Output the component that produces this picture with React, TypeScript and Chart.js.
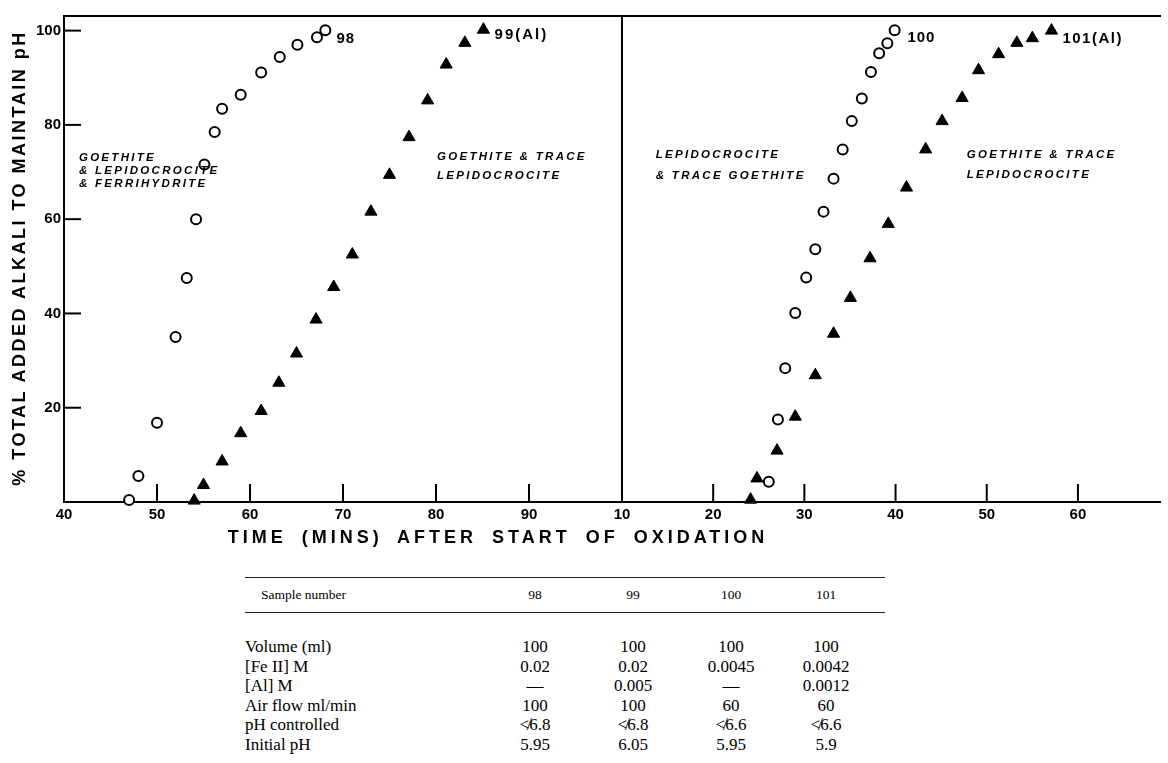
import React, { useEffect, useRef } from 'react';
import { Chart, registerables } from 'chart.js';
Chart.register(...registerables);

// ---------- data (time in minutes, % total added alkali) ----------
const t98 = [47, 48, 50, 52, 53.2, 54.2, 55.1, 56.2, 57, 59, 61.2, 63.2, 65.1, 67.2, 68.1];
const v98 = [0.4, 5.5, 16.8, 35, 47.5, 60, 71.6, 78.5, 83.4, 86.4, 91.1, 94.4, 97, 98.6, 100.1];

const t99 = [54, 55, 57, 59, 61.2, 63.1, 65, 67.1, 69, 71, 73, 75, 77.1, 79.1, 81.1, 83.1, 85.1];
const v99 = [0.3, 3.6, 8.6, 14.6, 19.3, 25.3, 31.5, 38.7, 45.6, 52.5, 61.6, 69.4, 77.4, 85.2, 92.8, 97.4, 100.2];

const t100 = [26.1, 27.1, 27.9, 29, 30.2, 31.2, 32.1, 33.2, 34.2, 35.2, 36.3, 37.3, 38.2, 39.1, 39.9];
const v100 = [4.3, 17.5, 28.4, 40.1, 47.6, 53.6, 61.6, 68.6, 74.8, 80.8, 85.6, 91.2, 95.2, 97.3, 100.1];

const t101 = [24.1, 24.8, 27, 29, 31.2, 33.2, 35.05, 37.2, 39.2, 41.2, 43.3, 45.1, 47.3, 49.1, 51.3, 53.3, 55, 57.1];
const v101 = [0.5, 5, 10.9, 18.1, 26.9, 35.7, 43.3, 51.7, 59, 66.7, 74.8, 80.8, 85.7, 91.6, 95, 97.4, 98.4, 100];

// ---------- ticks ----------
const yTickLabels = [20, 40, 60, 80, 100];
const xTickLabelsLeft = [40, 50, 60, 70, 80, 90];
const xTickLabelsRight = [10, 20, 30, 40, 50, 60];
const xInnerTicksLeft = [50, 60, 70, 80, 90];
const xInnerTicksRight = [20, 30, 40, 50, 60];

// ---------- text ----------
const yTitle = '% TOTAL ADDED ALKALI TO MAINTAIN pH';
const xTitle = 'TIME (MINS) AFTER START OF OXIDATION';
const seriesLabels = ['98', '99(Al)', '100', '101(Al)'];
const noteLeftA = ['GOETHITE', '& LEPIDOCROCITE', '& FERRIHYDRITE'];
const noteLeftB = ['GOETHITE & TRACE', 'LEPIDOCROCITE'];
const noteRightA = ['LEPIDOCROCITE', '& TRACE GOETHITE'];
const noteRightB = ['GOETHITE & TRACE', 'LEPIDOCROCITE'];

// ---------- table ----------
const tableSamples = ['98', '99', '100', '101'];
const tableRowLabels = ['Volume (ml)', '[Fe II] M', '[Al] M', 'Air flow ml/min', 'pH controlled', 'Initial pH'];
const tableCol98 = ['100', '0.02', '—', '100', '≮6.8', '5.95'];
const tableCol99 = ['100', '0.02', '0.005', '100', '≮6.8', '6.05'];
const tableCol100 = ['100', '0.0045', '—', '60', '≮6.6', '5.95'];
const tableCol101 = ['100', '0.0042', '0.0012', '60', '≮6.6', '5.9'];

const SANS = '"Liberation Sans", Arial, sans-serif';
const SERIF = '"Liberation Serif", "Times New Roman", serif';

const CH = 530; // canvas height
const AX_H = 28; // x-axis box height

const framePlugin = {
  id: 'frame',
  afterDraw(chart: any, _args: any, opts: any) {
    const { ctx, chartArea: ca, scales } = chart;
    const xs = scales.x;
    const ys = scales.y;
    ctx.save();
    ctx.strokeStyle = '#000';
    ctx.lineWidth = 2;
    ctx.lineCap = 'butt';
    ctx.beginPath();
    ctx.moveTo(ca.left - 1, ca.top);
    ctx.lineTo(ca.right + 1, ca.top);
    ctx.stroke();
    if (opts.rightBorder) {
      ctx.beginPath();
      ctx.moveTo(ca.right, ca.top);
      ctx.lineTo(ca.right, ca.bottom);
      ctx.stroke();
    }
    for (const v of opts.xInner) {
      const px = xs.getPixelForValue(v);
      ctx.beginPath();
      ctx.moveTo(px, ca.bottom);
      ctx.lineTo(px, ca.bottom - 18);
      ctx.stroke();
    }
    if (opts.yInner) {
      for (const v of opts.yInner) {
        const py = ys.getPixelForValue(v);
        ctx.beginPath();
        ctx.moveTo(ca.left, py);
        ctx.lineTo(ca.left + 17, py);
        ctx.stroke();
      }
    }
    ctx.fillStyle = '#000';
    ctx.textAlign = 'left';
    ctx.textBaseline = 'middle';
    for (const t of opts.texts) {
      ctx.font = t.font;
      (ctx as any).letterSpacing = t.spacing || '0px';
      ctx.fillText(t.text, xs.getPixelForValue(t.x), ys.getPixelForValue(t.y));
    }
    ctx.restore();
  },
};

const noteFont = `italic bold 11.5px ${SANS}`;
const labelFont = `bold 15px ${SANS}`;

function makeNotes(lines: string[], x: number, ys: number[]) {
  return lines.map((text, i) => ({ text, x, y: ys[i], font: noteFont, spacing: '2.3px' }));
}

function circleSet(t: number[], v: number[]) {
  return {
    data: t.map((x, i) => ({ x, y: v[i] })),
    pointStyle: 'circle',
    pointRadius: 5,
    borderWidth: 2,
    borderColor: '#000',
    backgroundColor: '#fff',
    showLine: false,
    clip: false,
  };
}
function triangleSet(t: number[], v: number[]) {
  return {
    data: t.map((x, i) => ({ x, y: v[i] })),
    pointStyle: 'triangle',
    pointRadius: 7,
    borderWidth: 1,
    borderColor: '#000',
    backgroundColor: '#000',
    showLine: false,
    clip: false,
  };
}

function makeOptions(side: 'left' | 'right'): any {
  const left = side === 'left';
  const labels = left ? xTickLabelsLeft : xTickLabelsRight;
  return {
    responsive: false,
    animation: false,
    events: [],
    devicePixelRatio: 1,
    layout: { padding: { top: 16, left: left ? 0 : 22, right: left ? 8 : 0, bottom: 0 } },
    plugins: {
      legend: { display: false },
      tooltip: { enabled: false },
      frame: left
        ? {
            rightBorder: true,
            xInner: xInnerTicksLeft,
            yInner: yTickLabels,
            texts: [
              ...makeNotes(noteLeftA, 41.6, [73.1, 70.3, 67.6]),
              ...makeNotes(noteLeftB, 80.1, [73.3, 69.3]),
              { text: seriesLabels[0], x: 69.3, y: 98.2, font: labelFont, spacing: '1px' },
              { text: seriesLabels[1], x: 86.3, y: 99.1, font: labelFont, spacing: '2px' },
            ],
          }
        : {
            rightBorder: false,
            xInner: xInnerTicksRight,
            yInner: null,
            texts: [
              ...makeNotes(noteRightA, 13.7, [73.7, 69.3]),
              ...makeNotes(noteRightB, 47.8, [73.7, 69.5]),
              { text: seriesLabels[2], x: 41.3, y: 98.5, font: labelFont, spacing: '1px' },
              { text: seriesLabels[3], x: 58.3, y: 98.3, font: labelFont, spacing: '1.5px' },
            ],
          },
    },
    scales: {
      x: {
        type: 'linear',
        min: left ? 40 : 10,
        max: left ? 100 : 69,
        grid: { display: false, drawTicks: false },
        border: { display: true, color: '#000', width: 2 },
        ticks: {
          stepSize: 10,
          includeBounds: false,
          autoSkip: false,
          maxRotation: 0,
          padding: 4,
          color: '#000',
          font: { family: SANS, size: 15, weight: 'bold' },
          callback: (v: number) => (labels.includes(v) ? String(v) : ''),
        },
        afterFit: (s: any) => {
          s.height = AX_H;
          s.paddingLeft = 0;
          s.paddingRight = 0;
        },
      },
      y: {
        type: 'linear',
        display: left,
        min: 0,
        max: 103.1,
        grid: { display: false, drawTicks: false },
        border: { display: true, color: '#000', width: 2 },
        ticks: {
          stepSize: 20,
          includeBounds: false,
          autoSkip: false,
          padding: 3,
          color: '#000',
          font: { family: SANS, size: 15, weight: 'bold' },
          callback: (v: number) => (yTickLabels.includes(v) ? String(v) : ''),
        },
        afterFit: (s: any) => {
          s.width = left ? 64 : 0;
          s.paddingTop = 0;
          s.paddingBottom = 0;
        },
      },
    },
  };
}

const colWidths = [98, 98, 98, 92];

export default function App() {
  const leftRef = useRef<HTMLCanvasElement>(null);
  const rightRef = useRef<HTMLCanvasElement>(null);

  useEffect(() => {
    const c1 = new Chart(leftRef.current as HTMLCanvasElement, {
      type: 'scatter',
      data: { datasets: [circleSet(t98, v98), triangleSet(t99, v99)] as any },
      options: makeOptions('left'),
      plugins: [framePlugin],
    });
    const c2 = new Chart(rightRef.current as HTMLCanvasElement, {
      type: 'scatter',
      data: { datasets: [circleSet(t100, v100), triangleSet(t101, v101)] as any },
      options: makeOptions('right'),
      plugins: [framePlugin],
    });
    return () => {
      c1.destroy();
      c2.destroy();
    };
  }, []);

  const cols = [tableCol98, tableCol99, tableCol100, tableCol101];
  const rowH = 19.6;

  return (
    <div style={{ position: 'absolute', left: 0, top: 0, width: 1168, height: 763, background: '#fff', overflow: 'hidden' }}>
      <canvas ref={leftRef} width={630} height={CH} style={{ position: 'absolute', left: 0, top: 0, width: 630, height: CH }} />
      <canvas ref={rightRef} width={568} height={CH} style={{ position: 'absolute', left: 600, top: 0, width: 568, height: CH }} />
      <div
        style={{
          position: 'absolute',
          left: 20 - 260,
          top: 258 - 11,
          width: 520,
          height: 22,
          lineHeight: '22px',
          textAlign: 'center',
          transform: 'rotate(-90deg)',
          transformOrigin: '50% 50%',
          font: `bold 18px ${SANS}`,
          letterSpacing: '2.5px',
          whiteSpace: 'nowrap',
          color: '#000',
        }}
      >
        {yTitle}
      </div>
      <div
        style={{
          position: 'absolute',
          left: 498 - 350,
          top: 538 - 11,
          width: 700,
          height: 22,
          lineHeight: '22px',
          textAlign: 'center',
          font: `bold 18px ${SANS}`,
          letterSpacing: '4px',
          wordSpacing: '6px',
          whiteSpace: 'nowrap',
          color: '#000',
        }}
      >
        {xTitle}
      </div>
      <div style={{ position: 'absolute', left: 245, top: 577, width: 640, fontFamily: SERIF, color: '#000' }}>
        <div
          style={{
            display: 'flex',
            height: 36,
            boxSizing: 'border-box',
            borderTop: '1.5px solid #222',
            borderBottom: '1.5px solid #222',
            alignItems: 'center',
            fontSize: 13.5,
          }}
        >
          <div style={{ width: 241, paddingLeft: 16, boxSizing: 'border-box' }}>Sample number</div>
          {tableSamples.map((s, j) => (
            <div key={s} style={{ width: colWidths[j], textAlign: 'center' }}>{s}</div>
          ))}
        </div>
        <div style={{ height: 24 }} />
        {tableRowLabels.map((lab, r) => (
          <div key={lab} style={{ display: 'flex', height: rowH, lineHeight: `${rowH}px`, fontSize: 17, whiteSpace: 'nowrap' }}>
            <div style={{ width: 241 }}>{lab}</div>
            {cols.map((c, j) => (
              <div key={j} style={{ width: colWidths[j], textAlign: 'center' }}>{c[r]}</div>
            ))}
          </div>
        ))}
      </div>
    </div>
  );
}
